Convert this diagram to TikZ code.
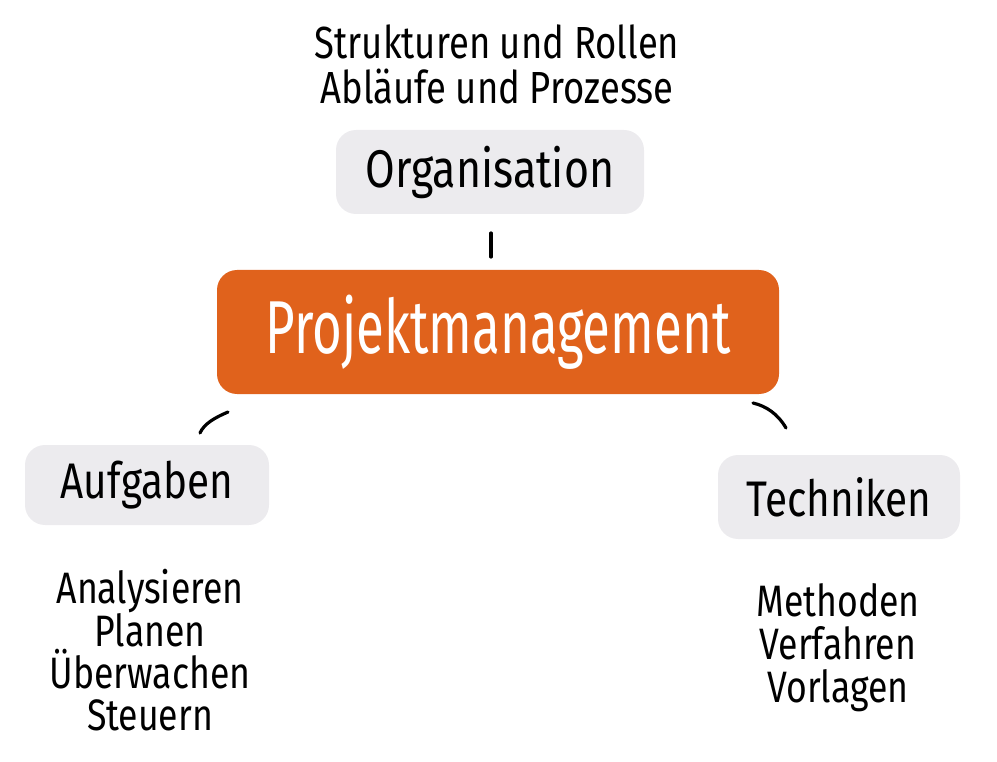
\documentclass[tikz,border=0pt]{standalone}
\usepackage{fontspec}
\newfontfamily\hand[FakeStretch=0.81]{Fira Sans}
\newfontfamily\handnarrow[FakeStretch=0.68]{Fira Sans}
\usetikzlibrary{calc}
\definecolor{blobgray}{HTML}{ECEBEE}
\definecolor{pmorange}{HTML}{E0621C}
\tikzset{
  blob/.style={fill=#1, rounded corners=20pt},
  lbl/.style={font=\hand, text=black, align=center},
  conn/.style={line width=3.2pt, line cap=round, draw=black}
}
\begin{document}
\begin{tikzpicture}[x=1pt,y=-1pt]
\useasboundingbox (0,0) rectangle (997,762);
% top text
\node[lbl, font=\hand\fontsize{45}{45}\selectfont] (orgtxt) at (497,64) {Strukturen und Rollen\\Abläufe und Prozesse};
% Organisation
\node[blob=blobgray, minimum width=308pt, minimum height=84pt, lbl, font=\hand\fontsize{53}{53}\selectfont] (org) at (490,172) {Organisation};
% Projektmanagement
\node[blob=pmorange, minimum width=562pt, minimum height=124pt, lbl, text=white, font=\handnarrow\fontsize{75}{75}\selectfont] (pm) at (498,332) {Projektmanagement};
% Aufgaben
\node[blob=blobgray, minimum width=244pt, minimum height=80pt, lbl, font=\hand\fontsize{50}{50}\selectfont] (auf) at (147,485) {Aufgaben};
% Techniken
\node[blob=blobgray, minimum width=242pt, minimum height=84pt, lbl, font=\hand\fontsize{50}{50}\selectfont] (tech) at (839,497) {Techniken};
% lists
\node[lbl, font=\hand\fontsize{44}{42}\selectfont] (auflist) at (150,650) {Analysieren\\Planen\\Überwachen\\Steuern};
\node[lbl, font=\hand\fontsize{44}{43}\selectfont] (techlist) at (838,648) {Methoden\\Verfahren\\Vorlagen};
% connectors
\coordinate (c1a) at (491,233);
\coordinate (c1b) at (491,257);
\draw[conn] (c1a) -- (c1b);
\coordinate (c2a) at (200,433);
\coordinate (c2b) at (228,412);
\draw[conn] (c2a) .. controls (204,424) and (214,418) .. (c2b);
\coordinate (c3a) at (753,403);
\coordinate (c3b) at (786,428);
\draw[conn] (c3a) .. controls (766,406) and (778,414) .. (c3b);
\end{tikzpicture}
\end{document}
